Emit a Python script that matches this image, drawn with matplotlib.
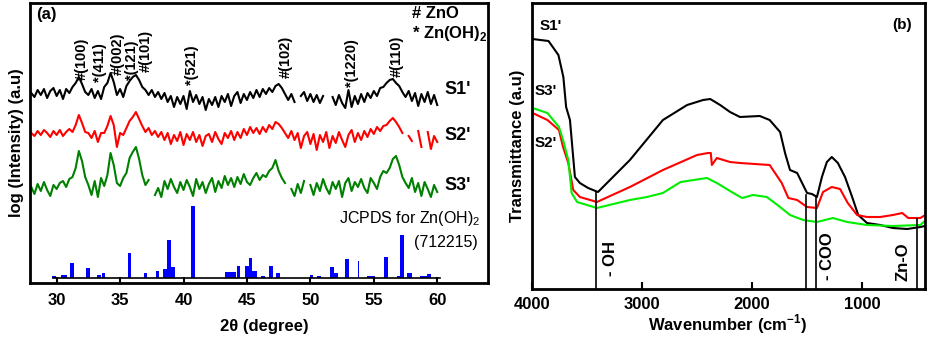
import numpy as np
import matplotlib
matplotlib.use("Agg")
from matplotlib import pyplot as plt

plt.rcParams['font.family'] = ['Liberation Sans', 'DejaVu Sans']
plt.rcParams['mathtext.fontset'] = 'custom'
plt.rcParams['mathtext.rm'] = 'Liberation Sans'
plt.rcParams['mathtext.bf'] = 'Liberation Sans:bold'

# ---- XRD (a) ----
# 2theta step of the scan, 28 -> 60 deg
two_theta = np.arange(28.0, 60.001, 0.25)

# traces already stacked (arbitrary units)
s1_xrd = [190, 186, 193, 188, 194, 185, 192, 195,
          187, 193, 184, 194, 190, 196, 200, 206,
          199, 191, 188, 194, 185, 192, 184, 196,
          200, 210, 201, 188, 194, 186, 197, 202,
          206, 208, 203, 196, 193, 188, 193, 186,
          191, 184, 190, 181, 187, 176, 186, 179,
          187, 174, 192, 181, 188, 179, 186, 173,
          184, 178, 186, 176, 187, 181, 189, 177,
          187, 191, 180, 189, 183, 191, 185, 193,
          186, 194, 189, 195, 191, 197, 199, 195,
          189, 183, 189, 181, np.nan, 187, 191, 182,
          189, 181, 188, 180, 187, np.nan, np.nan, 186,
          178, 188, 180, 175, 193, 176, 187, 179,
          189, 181, 190, 185, 192, 187, 195, 196,
          200, 203, 204, 200, 197, 191, 186, 192,
          182, 190, 177, 189, 181, 191, 179, 188,
          178]
s2_xrd = [150, 147, 152, 148, 153, 150, 146, 152,
          148, 153, 147, 151, 154, 151, 158, 168,
          160, 151, 150, 145, 152, 141, 150, 150,
          157, 167, 158, 136, 150, 148, 155, 162,
          166, 171, 164, 157, 151, 155, 148, 152,
          146, 151, 143, 150, 139, 148, 142, 151,
          138, 149, 143, 151, 141, 148, 137, 147,
          149, 141, 151, 144, 139, 150, 145, 152,
          143, 151, 145, 154, 148, 156, 150, 155,
          149, 156, 151, 158, 154, 161, 159, 155,
          150, 145, 152, 143, 150, 135, 147, 151,
          139, 149, 133, 148, 141, 151, 135, 147,
          140, 151, 143, 136, 148, 153, 141, 150,
          143, 152, 146, 154, 149, 156, 152, 157,
          158, 162, 165, 161, 156, 150, np.nan, 147,
          142, np.nan, 152, 136, np.nan, 151, 134, 147,
          141]
s3_xrd = [96, 89, 99, 92, 101, 93, 87, 98,
          94, 100, 102, 96, 104, 106, 115, 132,
          122, 106, 98, 88, 102, 86, 105, 97,
          108, 130, 118, 100, 97, 105, 110, 125,
          131, 136, 124, 108, 98, 103, np.nan, 88,
          95, 86, 102, 94, 104, 96, 90, 101,
          93, 103, 96, 87, 104, 94, 101, 90,
          99, 105, 91, 102, 95, 107, 98, 105,
          96, 106, 99, 109, 101, 98, 105, 110,
          103, 108, 106, 112, 115, 123, 112, 105,
          100, np.nan, 94, 87, 99, 90, 102, np.nan,
          98, 88, 100, 92, 104, 95, 89, 101,
          94, 102, 86, 100, 105, 92, 101, 96,
          104, 95, 90, 105, 100, 94, 106, 112,
          110, 115, 124, 127, 118, 106, 100, 95,
          105, 91, 100, 87, 101, 94, 86, 98,
          91]

# JCPDS 712215 stick pattern
jcpds_pos = [29.8, 30.5, 30.7, 31.2, 32.45, 33.35, 33.7, 35.75, 37.0, 37.95,
             38.55, 38.85, 39.15, 40.75, 43.4, 43.7, 43.95, 44.35, 45.0, 45.3,
             45.6, 46.25, 46.9, 47.45, 50.1, 50.65, 51.7, 52.05, 52.9, 53.8,
             54.65, 54.95, 55.95, 56.95, 57.25, 57.8, 58.8, 59.05, 59.35]
jcpds_int = [2, 2.5, 2.5, 15, 10, 2.3, 4.3, 25, 4.3, 7,
             8.3, 38, 11, 72, 6, 6, 6, 11.7, 11.7, 20,
             6.7, 2, 11.7, 4.3, 2.3, 2, 11, 4.3, 18.3, 17,
             2, 2, 20.3, 2, 42.7, 4.3, 1.7, 1.7, 3.7]
jcpds_w = [0.3, 0.3, 0.3, 0.3, 0.3, 0.3, 0.3, 0.3, 0.3, 0.3,
           0.3, 0.3, 0.3, 0.25, 0.3, 0.3, 0.3, 0.25, 0.25, 0.25,
           0.35, 0.3, 0.25, 0.25, 0.25, 0.3, 0.3, 0.3, 0.3, 0.1,
           0.3, 0.3, 0.3, 0.3, 0.3, 0.35, 0.3, 0.3, 0.3]

peak_lbl = ["#(100)", "*(411)", "#(002)", "*(121)", "#(101)",
            "*(521)", "#(102)", "*(1220)", "#(110)"]
peak_x = [31.94, 33.45, 34.78, 35.92, 37.0, 40.68, 48.08, 53.28, 56.83]
peak_y = [203, 201, 208, 203, 211, 198, 205, 196, 206]

# ---- FTIR (b) ----
ftir_s1_wn = [3995, 3850, 3760, 3715, 3690, 3655, 3610, 3565, 3490, 3400,
              3110, 2810, 2590, 2445, 2380, 2290, 2200, 2110, 1930, 1840,
              1745, 1700, 1655, 1590, 1545, 1500, 1455, 1410, 1365, 1320,
              1275, 1220, 1155, 1090, 1035, 955, 835, 720, 590, 470, 430]
ftir_s1 = [250, 248, 234, 212, 182, 169, 112, 106, 101, 97,
           129, 169, 184, 189, 190, 184, 177, 172, 173, 169,
           157, 136, 119, 116, 106, 96, 95, 92, 112, 127,
           132, 126, 112, 92, 74, 66, 64, 61, 60, 62, 63]

ftir_s2_wn = [3995, 3860, 3755, 3718, 3670, 3625, 3565, 3410, 3110, 2810,
              2500, 2400, 2375, 2365, 2320, 2200, 2110, 1840, 1730, 1670,
              1590, 1500, 1410, 1355, 1275, 1200, 1130, 1045, 955, 835,
              720, 635, 580, 470, 440]
ftir_s2 = [176, 169, 159, 142, 126, 99, 92, 87, 102, 119,
           134, 136, 136, 124, 131, 127, 126, 124, 106, 91,
           89, 82, 81, 97, 102, 100, 86, 74, 72, 72,
           74, 76, 71, 71, 73]

ftir_s3_wn = [3995, 3860, 3755, 3718, 3670, 3640, 3590, 3410, 3110, 2955,
              2810, 2650, 2410, 2320, 2290, 2170, 2090, 1990, 1865, 1745,
              1655, 1535, 1410, 1265, 1135, 955, 720, 470, 440]
ftir_s3 = [181, 176, 162, 149, 129, 96, 87, 81, 89, 92,
           96, 107, 111, 106, 104, 96, 91, 94, 92, 82,
           74, 69, 67, 71, 67, 64, 63, 64, 67]

band_wn = [3421, 1512, 1418, 503]
band_top = [97, 94, 93, 70]
band_lbl = ["- OH", "- COO", "Zn-O"]
band_lbl_wn = [3290, 1318, 627]
band_lbl_y = [31, 33, 27]

fig = plt.figure(figsize=(9.27, 3.43), dpi=100)
ax1 = fig.add_axes([30/927, 1-283/343, 458/927, 280/343])
ax2 = fig.add_axes([532/927, 1-289/343, 393/927, 286/343])

# panel a
ax1.plot(two_theta, s1_xrd, color='black', lw=1.5)
ax1.plot(two_theta, s2_xrd, color='#ff0000', lw=1.5)
ax1.plot(two_theta, s3_xrd, color='#008000', lw=1.5)
ax1.bar(jcpds_pos, jcpds_int, width=jcpds_w, bottom=5.3, color='#0000ff', lw=0)
ax1.plot([29.7, 60.2], [5.3, 5.3], color='black', lw=1.2)
for lb, x, y in zip(peak_lbl, peak_x, peak_y):
    ax1.text(x, y, lb, rotation=90, ha='center', va='bottom', fontsize=10.5, fontweight='bold')
ax1.set_xlim(27.9, 64.0)
ax1.set_ylim(0, 280)
ax1.set_xticks([30, 35, 40, 45, 50, 55, 60])
ax1.set_yticks([])
ax1.tick_params(axis='x', direction='in', length=4, width=1.5, pad=7, labelsize=12)
for t in ax1.get_xticklabels():
    t.set_fontweight('bold')
ax1.set_xlabel('2θ (degree)', fontsize=12, fontweight='bold')
ax1.xaxis.set_label_coords(0.511, -0.128)
ax1.set_ylabel('log (Intensity) (a.u)', fontsize=12, fontweight='bold')
ax1.yaxis.set_label_coords(-0.013, 0.5)
ax1.text(0.013, 0.96, '(a)', transform=ax1.transAxes, fontsize=12, fontweight='bold', va='center')
ax1.text(0.833, 0.962, '# ZnO', transform=ax1.transAxes, fontsize=12, fontweight='bold', va='center')
ax1.text(0.833, 0.89, r'* Zn(OH)$_\mathbf{2}$', transform=ax1.transAxes, fontsize=12, fontweight='bold', va='center')
ax1.text(60.6, 193, "S1'", fontsize=13, fontweight='bold', va='center')
ax1.text(60.6, 148, "S2'", fontsize=13, fontweight='bold', va='center')
ax1.text(60.6, 98, "S3'", fontsize=13, fontweight='bold', va='center')
ax1.text(63.4, 65, r'JCPDS for Zn(OH)$_2$', fontsize=11.5, ha='right', va='center')
ax1.text(63.2, 41, '(712215)', fontsize=11.5, ha='right', va='center')
for s in ax1.spines.values():
    s.set_linewidth(2)

# panel b
ax2.plot(ftir_s1_wn, ftir_s1, color='black', lw=1.5)
ax2.plot(ftir_s2_wn, ftir_s2, color='#ff0000', lw=1.5)
ax2.plot(ftir_s3_wn, ftir_s3, color='#00ee00', lw=1.5)
for w, top in zip(band_wn, band_top):
    ax2.plot([w, w], [0, top], color='black', lw=1.2)
for lb, w, y in zip(band_lbl, band_lbl_wn, band_lbl_y):
    ax2.text(w, y, lb, rotation=90, ha='center', va='center', fontsize=12, fontweight='bold')
ax2.set_xlim(4000, 428)
ax2.set_ylim(0, 286)
ax2.set_xticks([4000, 3000, 2000, 1000])
ax2.set_yticks([])
ax2.tick_params(axis='x', direction='in', length=5, width=1.5, pad=6, labelsize=12)
for t in ax2.get_xticklabels():
    t.set_fontweight('bold')
ax2.set_xlabel(r'Wavenumber (cm$^{\mathbf{-1}}$)', fontsize=12, fontweight='bold')
ax2.xaxis.set_label_coords(0.499, -0.082)
ax2.set_ylabel('Transmittance (a.u)', fontsize=12, fontweight='bold')
ax2.yaxis.set_label_coords(-0.018, 0.5)
ax2.text(3927, 263, "S1'", fontsize=11, fontweight='bold', va='center')
ax2.text(3980, 198, "S3'", fontsize=11, fontweight='bold', va='center')
ax2.text(3980, 146, "S2'", fontsize=11, fontweight='bold', va='center')
ax2.text(545, 264, '(b)', fontsize=11, fontweight='bold', ha='right', va='center')
for s in ax2.spines.values():
    s.set_linewidth(2)

plt.savefig('out.png', dpi=100)
